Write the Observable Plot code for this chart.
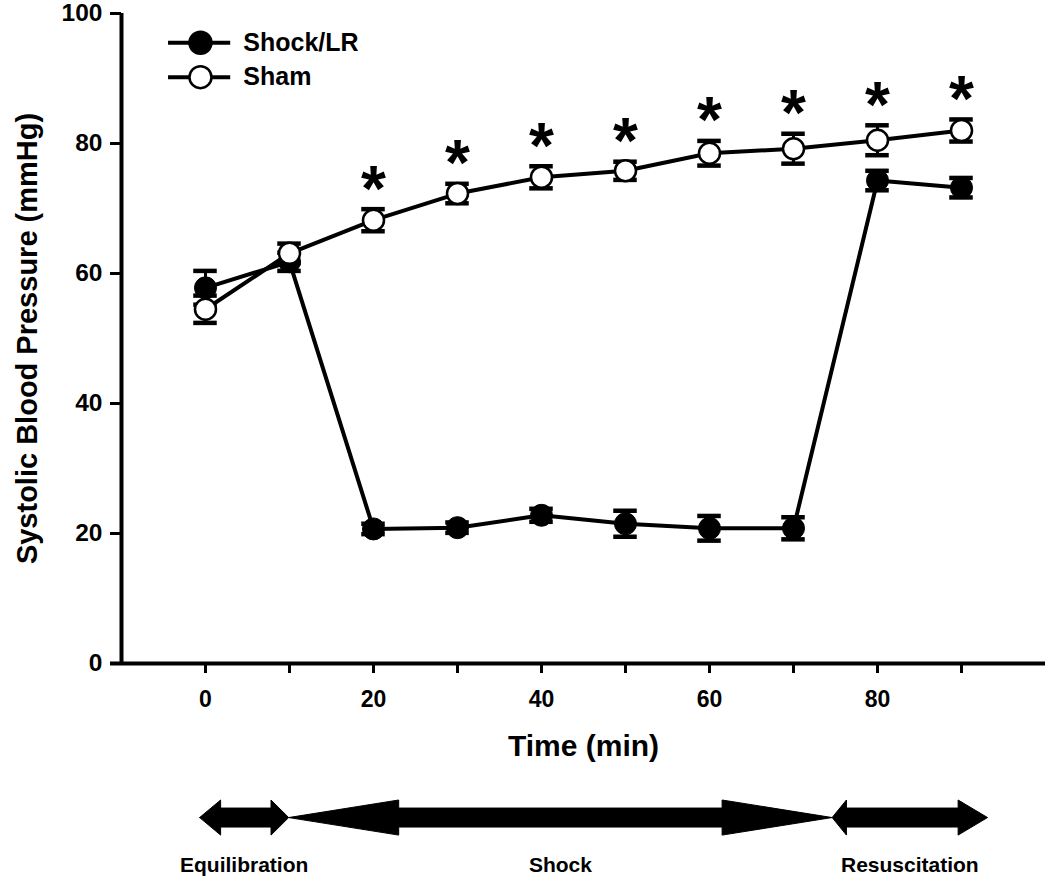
<!DOCTYPE html>
<html>
<head>
<meta charset="utf-8">
<script src="https://cdn.jsdelivr.net/npm/d3@7"></script>
<script src="https://cdn.jsdelivr.net/npm/@observablehq/plot@0.6"></script>
<style>
  html, body { margin: 0; padding: 0; background: #fff; }
  #chart { width: 1050px; height: 880px; }
</style>
</head>
<body>
<div id="chart"></div>
<script>
// ---- Data ----
const times      = [0, 10, 20, 30, 40, 50, 60, 70, 80, 90];
const shockMean  = [57.8, 61.8, 20.7, 20.9, 22.8, 21.5, 20.8, 20.8, 74.3, 73.2];
const shockSem   = [2.6, 1.4, 0.8, 0.8, 1.0, 2.0, 1.9, 1.7, 1.5, 1.5];
const shamMean   = [54.5, 63.1, 68.2, 72.3, 74.8, 75.8, 78.5, 79.2, 80.5, 82.0];
const shamSem    = [2.1, 1.5, 1.7, 1.5, 1.7, 1.4, 1.9, 2.3, 2.3, 1.7];
const sigTimes   = [20, 30, 40, 50, 60, 70, 80, 90];
const seriesNames = ["Shock/LR", "Sham"];
const yTicks     = [0, 20, 40, 60, 80, 100];
const xTicks     = [0, 10, 20, 30, 40, 50, 60, 70, 80, 90];
const xTickLabels = [0, 20, 40, 60, 80];
const phaseNames = ["Equilibration", "Shock", "Resuscitation"];
const phaseStart = [-0.7, 9.9, 74.6];
const phaseEnd   = [9.9, 74.6, 93.1];

// ---- Tables built from the arrays ----
const shock = times.map((t, i) => ({t, v: shockMean[i], e: shockSem[i]}));
const sham  = times.map((t, i) => ({t, v: shamMean[i], e: shamSem[i]}));
const stars = sigTimes.map(t => { const i = times.indexOf(t); return {t, top: shamMean[i] + shamSem[i]}; });

// ---- Layout constants (styles / positions of decorations) ----
const FONT = "'Liberation Sans', Arial, Helvetica, sans-serif";
const capHalf = 1.4;          // error-bar cap half-width (x units)
const arrowY = -23.7, headH = 2.7, shaftH = 1.46, phaseLabelY = -31.1;
const headLeft  = [2.5, 13.1, 1.7];
const headRight = [2.1, 13.1, 3.5];
const arrowPts = [];
phaseNames.forEach((p, i) => {
  const a = phaseStart[i], b = phaseEnd[i], hl = headLeft[i], hr = headRight[i];
  [[a, arrowY], [a + hl, arrowY + headH], [a + hl, arrowY + shaftH], [b - hr, arrowY + shaftH],
   [b - hr, arrowY + headH], [b, arrowY], [b - hr, arrowY - headH], [b - hr, arrowY - shaftH],
   [a + hl, arrowY - shaftH], [a + hl, arrowY - headH], [a, arrowY]]
   .forEach(([x, y]) => arrowPts.push({phase: p, x, y}));
});
const phaseLabels = phaseNames.map((p, i) => ({p, x: (phaseStart[i] + phaseEnd[i]) / 2}));

// legend layout (in scale units)
const legX1 = -4.4, legX2 = 3.0, legDot = -0.6, legText = 4.5;
const legY = [95.5, 90.2];
const legend = seriesNames.map((s, i) => ({s, y: legY[i], filled: i === 0}));

function errMarks(data) {
  return [
    Plot.ruleX(data, {x: "t", y1: d => d.v - d.e, y2: d => d.v + d.e, stroke: "black", strokeWidth: 3}),
    Plot.ruleY(data, {y: d => d.v + d.e, x1: d => d.t - capHalf, x2: d => d.t + capHalf, stroke: "black", strokeWidth: 4.5}),
    Plot.ruleY(data, {y: d => d.v - d.e, x1: d => d.t - capHalf, x2: d => d.t + capHalf, stroke: "black", strokeWidth: 4.5})
  ];
}

const chart = Plot.plot({
  width: 1050,
  height: 880,
  marginLeft: 121,
  marginRight: 5,
  marginTop: 13,
  marginBottom: 217,
  style: {fontFamily: FONT, fontWeight: "bold", background: "white", color: "black"},
  x: {domain: [-10, 100]},
  y: {domain: [0, 100]},
  marks: [
    // axes
    Plot.axisY({ticks: yTicks, tickSize: 11, tickPadding: 8, fontSize: 24.5, fontWeight: "bold", strokeWidth: 3, label: null}),
    Plot.axisX({ticks: xTicks, tickSize: 10, tickPadding: 17, fontSize: 23, fontWeight: "bold", strokeWidth: 3, label: null,
                tickFormat: d => xTickLabels.includes(d) ? String(d) : ""}),
    Plot.ruleY([0], {x1: -10, x2: 100, insetLeft: -11, stroke: "black", strokeWidth: 4}),
    Plot.ruleX([-10], {y1: 0, y2: 100, stroke: "black", strokeWidth: 4}),
    Plot.text(["Time (min)"], {frameAnchor: "bottom", dy: 92, fontSize: 30, fontWeight: "bold"}),
    Plot.text(["Systolic Blood Pressure (mmHg)"], {frameAnchor: "left", textAnchor: "middle", rotate: -90, dx: -94, fontSize: 29, fontWeight: "bold"}),

    // Shock/LR series
    Plot.line(shock, {x: "t", y: "v", stroke: "black", strokeWidth: 4}),
    ...errMarks(shock),
    Plot.dot(shock, {x: "t", y: "v", r: 11, fill: "black", stroke: "black", strokeWidth: 1}),

    // Sham series
    Plot.line(sham, {x: "t", y: "v", stroke: "black", strokeWidth: 4}),
    ...errMarks(sham),
    Plot.dot(sham, {x: "t", y: "v", r: 10.5, fill: "white", stroke: "black", strokeWidth: 2.5}),

    // significance asterisks
    Plot.text(stars, {x: "t", y: "top", text: () => "*", fontSize: 64, fontWeight: "bold", dy: -19}),

    // legend
    Plot.ruleY(legend, {y: "y", x1: legX1, x2: legX2, stroke: "black", strokeWidth: 4}),
    Plot.dot(legend, {x: legDot, y: "y", r: 11, fill: d => d.filled ? "black" : "white", stroke: "black", strokeWidth: 2.5}),
    Plot.text(legend, {x: legText, y: "y", text: "s", textAnchor: "start", fontSize: 25, fontWeight: "bold"}),

    // phase arrows
    Plot.line(arrowPts, {x: "x", y: "y", z: "phase", fill: "black", stroke: "black", strokeWidth: 1, curve: "linear"}),
    Plot.text(phaseLabels, {x: "x", y: phaseLabelY, text: "p", fontSize: 21, fontWeight: "bold"})
  ]
});
document.getElementById("chart").appendChild(chart);
</script>
</body>
</html>
